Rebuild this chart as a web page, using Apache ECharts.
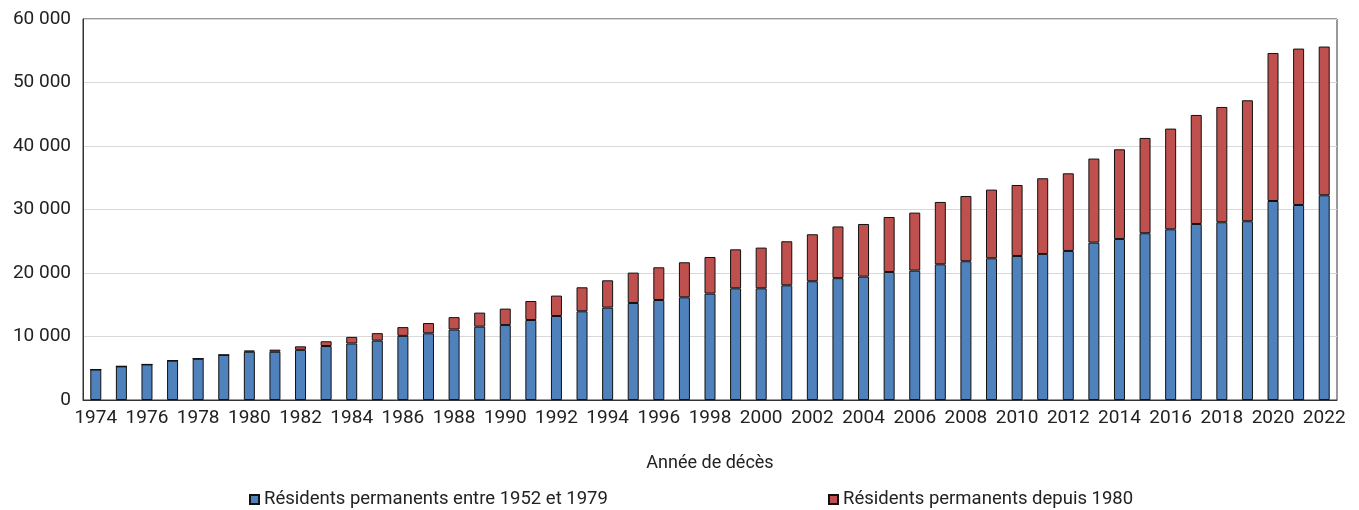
<!DOCTYPE html>
<html>
<head>
<meta charset="utf-8">
<script src="https://cdn.jsdelivr.net/npm/echarts@6/dist/echarts.min.js"></script>
<style>
  html, body { margin: 0; padding: 0; background: #fff; }
  #chart { width: 1359px; height: 510px; }
</style>
</head>
<body>
<div id="chart"></div>
<script>
// Décès par année, selon la période de résidence
var years = [];
for (var y = 1974; y <= 2022; y++) years.push(String(y));

var residents1952 = [
  4800, 5300, 5600, 6200, 6500, 7100, 7600, 7600, 7900, 8500,
  8900, 9350, 10100, 10500, 11100, 11550, 11800, 12600, 13230, 13970,
  14550, 15280, 15750, 16170, 16760, 17590, 17590, 18060, 18700, 19190,
  19430, 20160, 20380, 21370, 21850, 22320, 22680, 23000, 23470, 24790,
  25360, 26260, 26880, 27720, 27990, 28150, 31340, 30710, 32240
];
var residents1980 = [
  0, 0, 0, 0, 0, 0, 200, 330, 550, 750,
  1040, 1180, 1380, 1620, 1950, 2210, 2590, 2990, 3210, 3780,
  4300, 4780, 5150, 5520, 5760, 6140, 6410, 6940, 7400, 8140,
  8290, 8660, 9130, 9820, 10280, 10810, 11180, 11920, 12230, 13230,
  14120, 15010, 15860, 17170, 18160, 19050, 23310, 24630, 23420
];
var seriesNames = ['Résidents permanents entre 1952 et 1979', 'Résidents permanents depuis 1980'];

(function() {
  var chartDom = document.getElementById('chart');
  var myChart = echarts.init(chartDom);
  var option;

  var tickFont = { color: '#222', fontSize: 19, fontFamily: 'Roboto' };
  var legendText = { color: '#222', fontSize: 18.5, fontFamily: 'Roboto' };

  option = {
    animation: false,
    grid: {
      left: 83,
      right: 22,
      top: 19,
      bottom: 110,
      show: true,
      borderColor: '#333',
      borderWidth: 1
    },
    legend: [
      {
        data: [seriesNames[0]],
        left: 249,
        top: 490,
        icon: 'rect',
        itemWidth: 9,
        itemHeight: 9,
        itemGap: 0,
        textStyle: legendText,
        padding: 0
      },
      {
        data: [seriesNames[1]],
        left: 828,
        top: 490,
        icon: 'rect',
        itemWidth: 9,
        itemHeight: 9,
        itemGap: 0,
        textStyle: legendText,
        padding: 0
      }
    ],
    xAxis: {
      type: 'category',
      data: years,
      name: 'Année de décès',
      nameLocation: 'middle',
      nameGap: 54,
      nameTextStyle: { color: '#222', fontSize: 18, fontFamily: 'Roboto' },
      axisLine: { lineStyle: { color: '#333', width: 1 } },
      axisTick: { show: false },
      axisLabel: Object.assign({ interval: 1, margin: 9 }, tickFont)
    },
    yAxis: {
      type: 'value',
      min: 0,
      max: 60000,
      interval: 10000,
      axisLine: { show: true, lineStyle: { color: '#333', width: 1 } },
      axisTick: { show: false },
      splitLine: { lineStyle: { color: '#d9d9d9', width: 1 } },
      axisLabel: Object.assign({
        margin: 12,
        formatter: function(v) {
          return String(v).replace(/\B(?=(\d{3})+(?!\d))/g, ' ');
        }
      }, tickFont)
    },
    series: [
      {
        name: seriesNames[0],
        type: 'bar',
        stack: 'total',
        barWidth: 11,
        itemStyle: { color: '#4f81bd', borderColor: '#111', borderWidth: 1 },
        data: residents1952
      },
      {
        name: seriesNames[1],
        type: 'bar',
        stack: 'total',
        barWidth: 11,
        itemStyle: { color: '#c0504d', borderColor: '#111', borderWidth: 1 },
        data: residents1980
      }
    ]
  };

  option && myChart.setOption(option);
  window.addEventListener('resize', function() {
    myChart.resize();
  });
})();
</script>
</body>
</html>
